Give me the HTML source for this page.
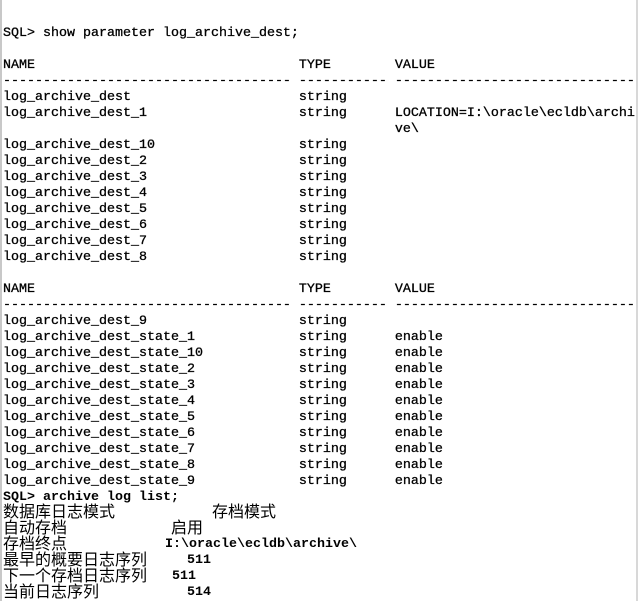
<!DOCTYPE html>
<html><head><meta charset="utf-8"><style>
html,body{margin:0;padding:0;background:#fff;}
body{width:639px;height:601px;position:relative;overflow:hidden;}
pre{position:absolute;left:3px;top:26px;margin:0;font-family:"Liberation Mono",monospace;font-size:13.33px;line-height:16px;font-weight:normal;color:#000;-webkit-text-stroke:0.3px #000;}
pre b{-webkit-text-stroke:0;}
.c{position:absolute;left:3px;font-family:"Liberation Mono","Noto Sans CJK SC",sans-serif;font-size:16px;line-height:16px;color:#000;white-space:pre;}
.m{position:absolute;font-family:"Liberation Mono",monospace;font-size:13.33px;font-weight:bold;line-height:16px;}
.bl{position:absolute;left:0;top:0;width:2px;height:601px;background:#c8c8c8;}
.br{position:absolute;left:636px;top:0;width:2px;height:601px;background:#d8d8d8;}
</style></head><body>
<div class="bl"></div><div class="br"></div>
<pre>SQL&gt; show parameter log_archive_dest;

NAME                                 TYPE        VALUE
------------------------------------ ----------- ------------------------------
log_archive_dest                     string
log_archive_dest_1                   string      LOCATION=I:\oracle\ecldb\archi
                                                 ve\
log_archive_dest_10                  string
log_archive_dest_2                   string
log_archive_dest_3                   string
log_archive_dest_4                   string
log_archive_dest_5                   string
log_archive_dest_6                   string
log_archive_dest_7                   string
log_archive_dest_8                   string

NAME                                 TYPE        VALUE
------------------------------------ ----------- ------------------------------
log_archive_dest_9                   string
log_archive_dest_state_1             string      enable
log_archive_dest_state_10            string      enable
log_archive_dest_state_2             string      enable
log_archive_dest_state_3             string      enable
log_archive_dest_state_4             string      enable
log_archive_dest_state_5             string      enable
log_archive_dest_state_6             string      enable
log_archive_dest_state_7             string      enable
log_archive_dest_state_8             string      enable
log_archive_dest_state_9             string      enable
<b>SQL&gt; archive log list;</b></pre>
<div class="c" style="top:505px">数据库日志模式</div><div class="c" style="top:505px;left:212px">存档模式</div>
<div class="c" style="top:521px">自动存档</div><div class="c" style="top:521px;left:171px">启用</div>
<div class="c" style="top:537px">存档终点</div><div class="m" style="top:537px;left:165px">I:\oracle\ecldb\archive\</div>
<div class="c" style="top:553px">最早的概要日志序列</div><div class="m" style="top:553px;left:187px">511</div>
<div class="c" style="top:569px">下一个存档日志序列</div><div class="m" style="top:569px;left:172px">511</div>
<div class="c" style="top:585px">当前日志序列</div><div class="m" style="top:585px;left:187px">514</div>
</body></html>
